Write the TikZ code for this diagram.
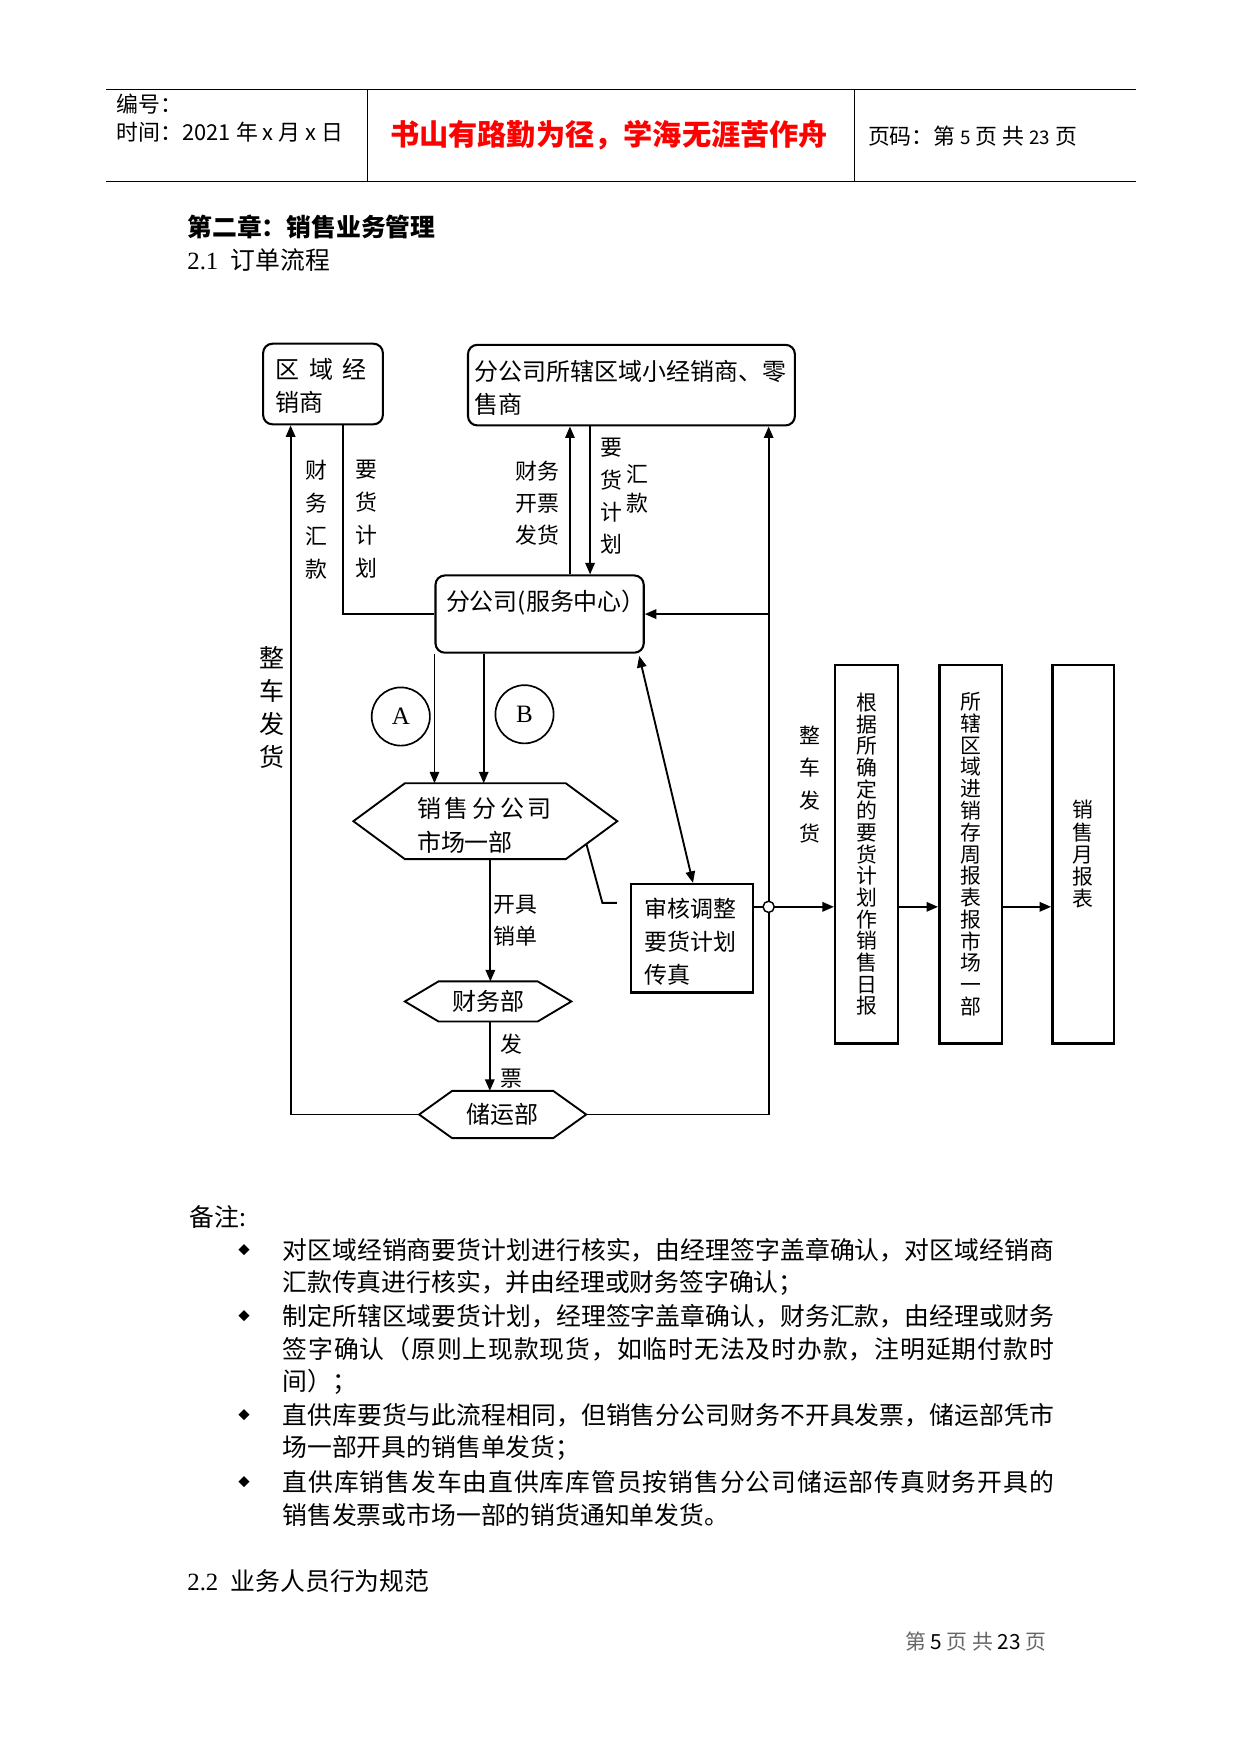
\documentclass[tikz,border=0pt]{standalone}
\usepackage{fontspec}
\setmainfont{Noto Sans CJK SC}
\newfontfamily\tnr{Liberation Serif}
\usetikzlibrary{arrows.meta,calc}
\newcommand{\uu}{0.537pt}
\newcommand{\fs}[2]{\fontsize{#1}{#2}\selectfont\lineskiplimit=-6pt}
\newcommand{\sth}[1]{\rule{0pt}{#1}}
\newcommand{\std}[1]{\rule[-#1]{0pt}{0pt}}
\def\jlsx#1{\ifx\relax#1\unskip\else#1\hfil\expandafter\jlsx\fi}
\newcommand{\jl}[1]{\hbox to 370pt{\jlsx#1\relax}}
\begin{document}
\begin{tikzpicture}[x=0.537pt,y=-0.537pt,
  ln/.style={line width=0.9pt},
  arr/.style={line width=0.9pt,-{Triangle[length=5.5pt,width=4.5pt]}},
  darr/.style={line width=0.9pt,{Triangle[length=5.5pt,width=4.5pt]}-{Triangle[length=5.5pt,width=4.5pt]}},
  rbox/.style={draw,line width=1pt,rounded corners=4.5pt,inner sep=0pt},
  pbox/.style={draw,line width=1pt,inner sep=0pt},
  tbox/.style={draw,line width=1.2pt,inner sep=0pt,align=center,minimum width=56*\uu,minimum height=338*\uu},
  hexn/.style={inner sep=0pt},
  hexl/.style={line width=0.9pt},
  lab/.style={inner sep=0pt,align=center},
  nline/.style={anchor=west,inner sep=0pt,font=\fs{11.9}{14}},
  bul/.style={inner sep=0pt,font=\fs{5.5}{6}},
  hl/.style={line width=0.8pt},
]
\useasboundingbox (0,0) rectangle (1108.5,1567.6);

% ---------- header ----------
\draw[hl] (95,80) -- (1015,80);
\draw[hl] (95,162) -- (1015,162);
\draw[line width=0.5pt] (328,80) -- (328,162);
\draw[line width=0.5pt] (763,80) -- (763,162);
\node[anchor=west,inner sep=0pt,font=\fs{10.5}{12}] (hno) at (104,93) {编号：};
\node[anchor=west,inner sep=0pt,font=\fs{10.5}{12}] (htime) at (104,118) {时间：2021 年 x 月 x 日};
\node[inner sep=0pt,font=\fs{14}{16}\bfseries,text=red] (hmotto) at (544,121) {书山有路勤为径，学海无涯苦作舟};
\node[anchor=west,inner sep=0pt,font=\fs{10.5}{12}] (hpage) at (775,122) {页码：第 {\fs{9}{12}5} 页 共 {\fs{9}{12}23} 页};

% ---------- titles ----------
\node[anchor=west,inner sep=0pt,font=\fs{11.9}{14}\bfseries] (t1) at (167,203) {第二章：销售业务管理};
\node[nline] (t2) at (167,232) {{\tnr 2.1}\hspace{6pt}订单流程};

% ---------- diagram nodes ----------
\node[rbox,minimum width=107*\uu,minimum height=72*\uu,text width=84*\uu,align=left,font=\fs{11.5}{15.6}] (b1) at (288.5,343) {\mbox{\sth{12.3pt}区\hspace{4.4pt}域\hspace{4.4pt}经}\\\mbox{销商\std{2pt}}};
\node[rbox,minimum width=292*\uu,minimum height=72*\uu,text width=280*\uu,align=left,font=\fs{11.5}{15.6}] (b2) at (564,344) {\mbox{\sth{13.4pt}分公司所辖区域小经销商、零}\\\mbox{售商\std{2pt}}};
\node[rbox,minimum width=186*\uu,minimum height=69*\uu] (b3) at (482,548.5) {};
\node[anchor=west,inner sep=0pt,font=\fs{11.5}{14}] (b3t) at (398,538) {分公司(服务中心）};

\node[draw,circle,line width=0.8pt,minimum size=52*\uu,inner sep=0pt,font=\tnr\fs{12}{14}] (ca) at (358,640) {A};
\node[draw,circle,line width=0.8pt,minimum size=52*\uu,inner sep=0pt,font=\tnr\fs{12}{14}] (cb) at (468.5,638) {B};

\node[hexn,minimum width=235*\uu,minimum height=67*\uu,text width=122*\uu,align=left,font=\fs{11.5}{16.1}] (h1) at (433.5,733.5) {\mbox{\sth{14.5pt}销\hspace{1.8pt}售\hspace{1.8pt}分\hspace{1.8pt}公\hspace{1.8pt}司}\\\mbox{市场一部\std{2pt}}};
\draw[hexl] (h1.west) -- ($(h1.north west)+(46,0)$) -- ($(h1.north east)+(-46,0)$) -- (h1.east) -- ($(h1.south east)+(-46,0)$) -- ($(h1.south west)+(46,0)$) -- cycle;

\node[hexn,minimum width=148*\uu,minimum height=35*\uu,font=\fs{11.5}{14}] (h2) at (436,894.5) {财务部};
\draw[hexl] (h2.west) -- ($(h2.north west)+(30,0)$) -- ($(h2.north east)+(-30,0)$) -- (h2.east) -- ($(h2.south east)+(-30,0)$) -- ($(h2.south west)+(30,0)$) -- cycle;

\node[hexn,minimum width=148.5*\uu,minimum height=41.5*\uu,font=\fs{11.5}{14}] (h3) at (449,995.5) {储运部};
\draw[hexl] (h3.west) -- ($(h3.north west)+(29.5,0)$) -- ($(h3.north east)+(-29.5,0)$) -- (h3.east) -- ($(h3.south east)+(-29.5,0)$) -- ($(h3.south west)+(29.5,0)$) -- cycle;

\node[pbox,minimum width=109*\uu,minimum height=97*\uu,text width=84*\uu,align=left,font=\fs{11}{15.9}] (b7) at (618,838) {\mbox{\sth{14.1pt}审核调整}\\\mbox{要货计划}\\\mbox{传真\std{2pt}}};

\node[tbox,font=\fs{10}{10.4}] (b4) at (774,763) {根\\据\\所\\确\\定\\的\\要\\货\\计\\划\\作\\销\\售\\日\\报};
\node[tbox,font=\fs{10}{10.45}] (b5) at (867,763) {所\\辖\\区\\域\\进\\销\\存\\周\\报\\表\\报\\市\\场\\一\\部};
\node[tbox,minimum width=55*\uu,font=\fs{10}{10.6}] (b6) at (967.5,763) {销\\售\\月\\报\\表};

% ---------- connector labels ----------
\node[lab,font=\fs{10.5}{15.8}] (l1) at (283,464) {财\\务\\汇\\款};
\node[lab,font=\fs{10.5}{15.8}] (l2) at (327,464) {要\\货\\计\\划};
\node[lab,font=\fs{10.5}{15.5}] (l3) at (480,449.3) {财务\\开票\\发货};
\node[lab,font=\fs{10.5}{15.5}] (l4) at (546,443.3) {要\\货\\计\\划};
\node[lab,font=\fs{10.5}{14.2}] (l5) at (569.6,436.7) {汇\\款};
\node[lab,font=\fs{12}{15.8}] (l6) at (243,631.7) {整\\车\\发\\货};
\node[lab,font=\fs{10}{15.75}] (l7) at (723.4,700.6) {整\\车\\发\\货};
\node[lab,font=\fs{10.5}{15.6}] (l8) at (460.5,822.5) {开具\\销单};
\node[lab,font=\fs{10.5}{16.2}] (l9) at (457,948) {发\\票};

% ---------- connectors ----------
\coordinate (pB) at ($(b3.south west)+(44,0)$);
\draw[arr] (b3.south west) -- (b3.south west |- h1.north);
\draw[arr] (pB) -- (pB |- h1.north);

\coordinate (pC) at ($(h1.south)+(4.5,0)$);
\draw[arr] (pC) -- (pC |- h2.north);
\coordinate (pD) at ($(h2.south)+(1.5,0)$);
\draw[arr] (pD) -- (pD |- h3.north);

\coordinate (pL) at ($(b1.south west)+(25.5,0)$);
\draw[arr] (h3.west) -| (pL);
\coordinate (pR1) at ($(b1.south west)+(72.5,0)$);
\draw[ln] (pR1) |- (b3.west);

\coordinate (pU) at ($(b2.south west)+(92,0)$);
\draw[arr] (pU |- b3.north) -- (pU);
\coordinate (pDn) at ($(b2.south west)+(110,0)$);
\draw[arr] (pDn) -- (pDn |- b3.north);

\coordinate (pRt) at ($(b2.south west)+(269.5,0)$);
\draw[arr] (h3.east) -| (pRt);
\draw[arr] (pRt |- b3.east) -- (b3.east);

\draw[darr] ($(b3.south east)+(-5,2)$) -- ($(b7.north)+(1,0)$);

\coordinate (h1se) at ($(h1.south east)+(-46,0)$);
\coordinate (hx) at ($(h1.east)!0.6!(h1se)$);
\coordinate (kb) at ($(b7.west)+(-11.5,-31.5)$);
\draw[ln] (hx) -- ($(kb)+(-13,0)$) -- (kb);

\coordinate (jy) at (0,810);
\coordinate (jn) at (pRt |- jy);
\draw[ln] (jn -| b7.east) -- (jn);
\draw[arr] (jn) -- (jn -| b4.west);
\node[circle,draw,fill=white,line width=0.7pt,minimum size=10*\uu,inner sep=0pt] (jc) at (jn) {};
\draw[arr] (jn -| b4.east) -- (jn -| b5.west);
\draw[arr] (jn -| b5.east) -- (jn -| b6.west);

% ---------- notes ----------
\node[nline] (nt) at (169,1087) {备注:};
\node[bul] (bu1) at (218,1117) {◆};
\node[bul] (bu2) at (218,1176) {◆};
\node[bul] (bu3) at (218,1264) {◆};
\node[bul] (bu4) at (218,1324) {◆};
\node[nline] (n1) at (252,1117) {\jl{对区域经销商要货计划进行核实，由经理签字盖章确认，对区域经销商}};
\node[nline] (n2) at (252,1146) {汇款传真进行核实，并由经理或财务签字确认；};
\node[nline] (n3) at (252,1176) {\jl{制定所辖区域要货计划，经理签字盖章确认，财务汇款，由经理或财务}};
\node[nline] (n4) at (252,1205) {\jl{签字确认（原则上现款现货，如临时无法及时办款，注明延期付款时}};
\node[nline] (n5) at (252,1234) {间）；};
\node[nline] (n6) at (252,1264) {\jl{直供库要货与此流程相同，但销售分公司财务不开具发票，储运部凭市}};
\node[nline] (n7) at (252,1293) {场一部开具的销售单发货；};
\node[nline] (n8) at (252,1324) {\jl{直供库销售发车由直供库库管员按销售分公司储运部传真财务开具的}};
\node[nline] (n9) at (252,1353) {销售发票或市场一部的销货通知单发货。};

\node[nline] (s22) at (167,1412) {{\tnr 2.2}\hspace{6pt}业务人员行为规范};
\node[anchor=west,inner sep=0pt,font=\fs{10}{12}] (ft) at (808,1466) {\textcolor{black!60}{第} 5 \textcolor{black!60}{页} \textcolor{black!60}{共} 23 \textcolor{black!60}{页}};
\end{tikzpicture}
\end{document}
